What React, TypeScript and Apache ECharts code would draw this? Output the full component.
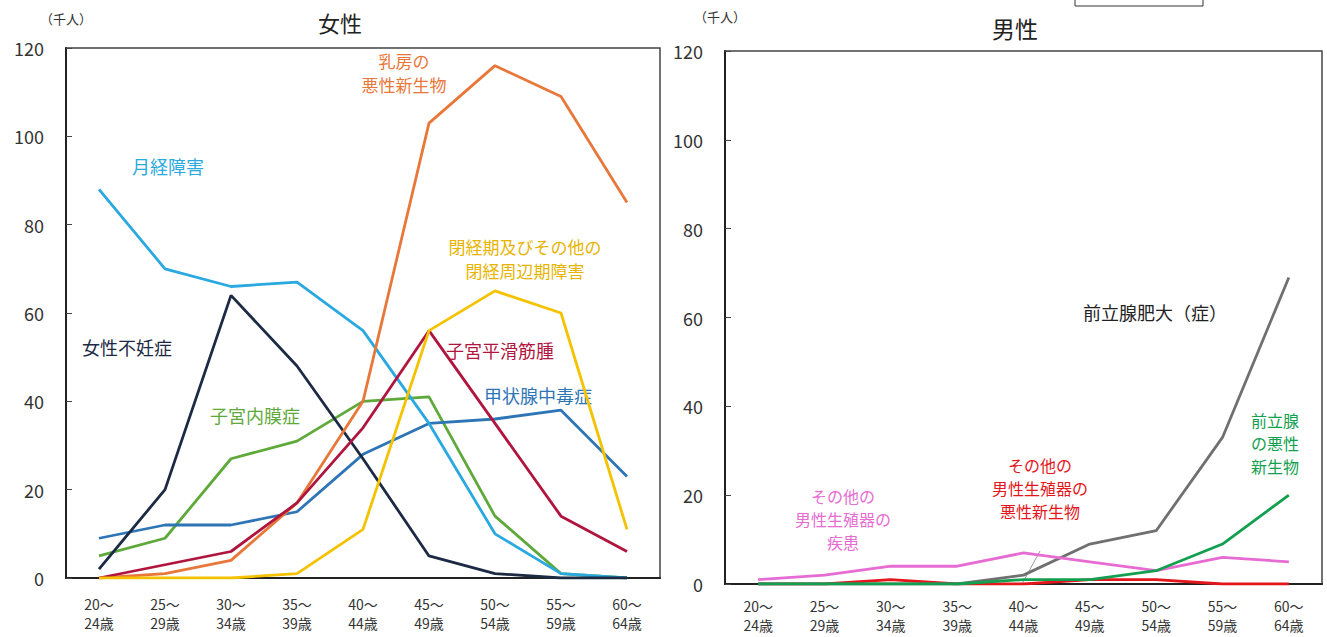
import React, { useEffect, useRef } from "react";
import * as echarts from "echarts";

const categories = [
  "20～\n24歳", "25～\n29歳", "30～\n34歳", "35～\n39歳", "40～\n44歳",
  "45～\n49歳", "50～\n54歳", "55～\n59歳", "60～\n64歳",
];
const yTicks = [0, 20, 40, 60, 80, 100, 120];

// 女性 (千人)
const gekkeiShogai = [88, 70, 66, 67, 56, 35, 10, 1, 0];
const nyuboAkusei = [0, 1, 4, 17, 40, 103, 116, 109, 85];
const heikeiki = [0, 0, 0, 1, 11, 56, 65, 60, 11];
const joseiFunin = [2, 20, 64, 48, 27, 5, 1, 0, 0];
const shikyuKinshu = [0, 3, 6, 17, 34, 56, 35, 14, 6];
const kojosen = [9, 12, 12, 15, 28, 35, 36, 38, 23];
const shikyuNaimaku = [5, 9, 27, 31, 40, 41, 14, 1, 0];

// 男性 (千人)
const zenritsusenHidai = [0, 0, 0, 0, 2, 9, 12, 33, 69];
const zenritsusenAkusei = [0, 0, 0, 0, 1, 1, 3, 9, 20];
const otherShikkan = [1, 2, 4, 4, 7, 5, 3, 6, 5];
const otherAkusei = [0, 0, 1, 0, 0, 1, 1, 0, 0];

const FONT = "'Noto Sans CJK JP', 'Noto Sans', sans-serif";

export default function App() {
  const ref = useRef<HTMLDivElement>(null);
  useEffect(() => {
    document.body.style.margin = "0";
    if (!ref.current) return;
    const chart = echarts.init(ref.current, undefined, { renderer: "svg" });

    const mkX = (gi: number, margin: number) => ({
      type: "category",
      gridIndex: gi,
      data: categories,
      boundaryGap: true,
      axisTick: { show: false },
      axisLine: { show: true, lineStyle: { color: "#222", width: 2 } },
      axisLabel: { color: "#333", fontSize: 14, lineHeight: 19, margin, fontFamily: FONT, interval: 0 },
    });
    const mkY = (gi: number) => ({
      type: "value",
      gridIndex: gi,
      min: yTicks[0],
      max: yTicks[yTicks.length - 1],
      interval: 20,
      splitLine: { show: false },
      axisLine: { show: true, lineStyle: { color: "#222", width: 2 } },
      axisTick: { show: true, inside: true, length: 6, lineStyle: { color: "#444" } },
      axisLabel: { color: "#333", fontSize: 18, margin: 22, fontFamily: FONT },
    });
    const ln = (data: number[], color: string, gi: number, width = 2.8) => ({
      type: "line",
      xAxisIndex: gi,
      yAxisIndex: gi,
      data,
      symbol: "none",
      lineStyle: { color, width },
      itemStyle: { color },
    });
    const txt = (x: number, y: number, t: string, color: string, size = 18, lh = 23) => ({
      type: "text",
      x,
      y,
      style: { text: t, fill: color, fontSize: size, fontFamily: FONT, textAlign: "center", textVerticalAlign: "middle", lineHeight: lh },
    });

    chart.setOption({
      animation: false,
      backgroundColor: "#fff",
      grid: [
        { left: 66, top: 48, width: 594, height: 530, show: true, borderColor: "#444", borderWidth: 1.5, backgroundColor: "transparent" },
        { left: 725, top: 51, width: 597, height: 533, show: true, borderColor: "#444", borderWidth: 1.5, backgroundColor: "transparent" },
      ],
      xAxis: [mkX(0, 16), mkX(1, 12)],
      yAxis: [mkY(0), mkY(1)],
      series: [
        ln(shikyuNaimaku, "#5EA93A", 0),
        ln(kojosen, "#2E75B6", 0),
        ln(gekkeiShogai, "#29A9E0", 0),
        ln(joseiFunin, "#1C2A44", 0),
        ln(nyuboAkusei, "#E8773A", 0),
        ln(shikyuKinshu, "#B0153F", 0),
        ln(heikeiki, "#F5C200", 0),
        ln(otherAkusei, "#E3161B", 1),
        ln(zenritsusenHidai, "#707070", 1),
        ln(otherShikkan, "#E66CD3", 1),
        ln(zenritsusenAkusei, "#12A050", 1),
      ],
      graphic: [
        txt(340, 22, "女性", "#222", 22),
        txt(1015, 28, "男性", "#222", 23),
        txt(66, 18, "（千人）", "#333", 13),
        txt(720, 16, "（千人）", "#333", 13),
        { type: "rect", shape: { x: 1075, y: -4, width: 128, height: 10 }, style: { fill: "none", stroke: "#333", lineWidth: 1 } },
        txt(168, 166, "月経障害", "#29A9E0"),
        txt(404, 72, "乳房の\n悪性新生物", "#E8773A", 17, 24),
        txt(525, 258, "閉経期及びその他の\n閉経周辺期障害", "#E8B400", 17, 24),
        txt(127, 347, "女性不妊症", "#1C2A44"),
        txt(500, 350, "子宮平滑筋腫", "#B0153F"),
        txt(538, 395, "甲状腺中毒症", "#2E75B6"),
        txt(255, 415, "子宮内膜症", "#5EA93A"),
        txt(1155, 312, "前立腺肥大（症）", "#222"),
        txt(1275, 443, "前立腺\nの悪性\n新生物", "#12A050", 16, 23),
        txt(1040, 488, "その他の\n男性生殖器の\n悪性新生物", "#E3161B", 16, 23),
        txt(843, 519, "その他の\n男性生殖器の\n疾患", "#E66CD3", 16, 23),
        { type: "line", shape: { x1: 1040, y1: 551, x2: 1022, y2: 584 }, style: { stroke: "#999", lineWidth: 1 } },
      ],
    });
    return () => chart.dispose();
  }, []);
  return <div ref={ref} style={{ width: 1327, height: 637 }} />;
}
